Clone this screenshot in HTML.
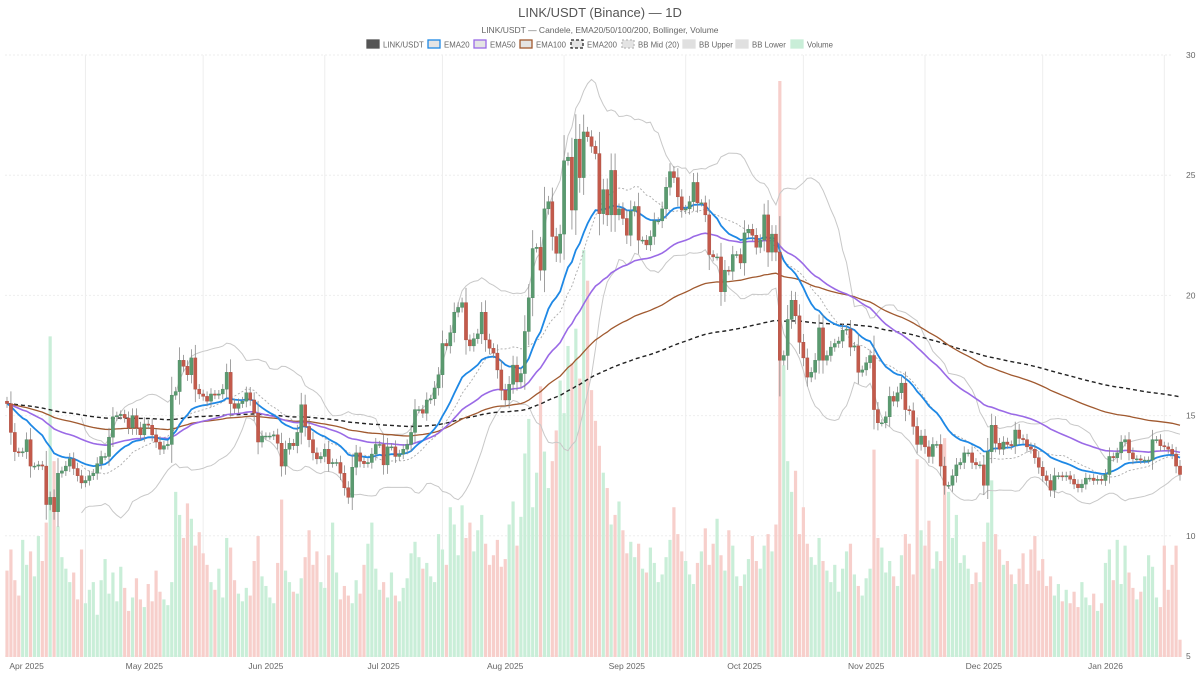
<!DOCTYPE html>
<html><head><meta charset="utf-8">
<style>
html,body{margin:0;padding:0;background:#fff;}
body{width:1200px;height:675px;overflow:hidden;font-family:"Liberation Sans",sans-serif;}
svg text{font-family:"Liberation Sans",sans-serif;}
</style></head>
<body>
<svg id="chart" width="1200" height="675" viewBox="0 0 1200 675">
<text x="600" y="17" text-anchor="middle" font-size="13" fill="#555">LINK/USDT (Binance) — 1D</text>
<text x="600" y="33" text-anchor="middle" font-size="8.5" fill="#666">LINK/USDT — Candele, EMA20/50/100/200, Bollinger, Volume</text>
<g id="legend"></g>
<g id="grid"></g>
<g id="vol"></g>
<g id="bb"></g>
<g id="ema"></g>
<g id="candles"></g>
<g id="axes"></g>
</svg>
<script>
const closes = [
15.5,14.3,13.5,13.45,13.5,14.0,12.9,12.9,12.95,12.9,11.3,11.6,11.0,12.6,12.7,12.9,13.2,12.8,12.5,12.2,12.3,12.5,12.6,13.0,13.3,13.3,14.1,14.95,15.0,15.05,14.9,14.5,15.0,14.5,14.2,14.65,14.6,14.2,13.9,13.6,13.75,13.8,15.85,16.0,17.3,17.05,16.7,17.4,16.1,15.9,
15.8,15.6,15.9,15.85,15.9,16.1,16.8,15.5,15.3,15.5,15.6,15.95,15.65,15.1,13.9,14.15,14.15,14.15,14.2,13.85,12.9,13.6,13.85,13.75,14.3,15.45,14.55,14.0,13.45,13.2,13.3,13.6,13.0,13.05,13.05,12.6,12.0,11.6,12.85,13.45,13.1,13.0,13.05,13.4,13.8,13.8,12.95,13.7,13.7,13.3,
13.4,13.6,13.8,
14.3,15.25,15.25,15.1,15.65,15.7,16.15,16.7,18.0,17.9,18.45,19.3,19.5,19.7,18.15,17.9,18.2,18.4,19.3,18.15,17.8,17.6,16.9,16.05,15.65,16.3,17.1,16.4,16.75,18.5,19.9,21.95,22.0,21.05,23.6,23.9,22.45,21.75,22.55,25.6,25.75,23.55,26.5,24.9,26.8,26.6,26.2,25.9,23.4,
24.4,23.35,25.2,23.35,23.6,23.2,22.5,23.5,23.7,22.3,22.3,22.1,22.45,23.1,23.1,23.6,24.5,25.15,24.9,24.1,23.55,23.6,23.9,24.7,23.85,23.85,23.35,21.7,21.6,21.6,20.15,21.05,21.0,21.7,21.7,21.35,22.6,22.75,22.5,22.0,22.3,23.35,21.8,22.55,21.8,17.3,17.5,19.0,19.8,19.15,18.05,17.4,16.6,16.8,17.3,
18.65,17.3,17.5,17.85,18.0,18.1,18.55,18.6,17.85,17.9,16.8,16.9,17.2,17.5,15.25,14.7,14.7,14.95,15.8,15.6,15.95,16.35,15.25,15.2,14.55,13.8,14.15,13.7,13.3,13.8,13.8,12.9,12.1,12.1,12.5,12.95,13.05,13.45,13.45,13.05,12.95,12.95,12.1,13.5,14.6,
13.85,13.6,13.9,13.8,13.75,14.4,14.05,14.0,13.7,13.6,13.25,12.85,12.5,12.3,11.9,12.5,12.5,12.45,12.5,12.35,12.15,12.0,12.15,12.4,12.4,12.3,12.35,12.3,12.55,13.3,13.25,13.45,13.9,14.0,13.45,13.2,13.2,13.15,13.15,13.15,14.0,14.0,13.75,13.7,13.6,13.4,12.9,12.55
];
const firstOpen = 15.6;
const volumes = [
4.5,5.6,4.0,3.2,6.1,4.8,5.5,4.2,6.3,5.0, 7.0,16.7,10.2,6.8,5.2,4.6,3.9,4.4,3.0,5.6,
2.8,3.5,3.9,2.2,4.0,5.1,3.3,4.4,2.9,4.7, 3.6,2.4,3.1,4.1,3.0,2.6,3.8,2.9,4.5,3.4,
3.0,2.7,3.9,8.6,7.4,6.2,8.0,7.2,5.8,6.5, 5.4,4.8,3.9,3.5,4.6,3.1,6.2,5.7,4.0,3.3,
2.9,3.6,3.2,5.0,6.3,4.2,3.7,3.1,2.8,4.9, 8.2,4.5,3.9,3.4,3.3,4.1,5.2,6.6,4.8,5.5,
3.9,3.6,5.3,7.0,4.4,3.0,3.7,3.2,2.8,4.0, 3.3,4.8,5.9,7.0,4.6,3.5,3.9,3.1,4.4,3.2,
2.9,3.6,4.1,5.4,6.0,5.2,4.6,4.9,4.2,3.9, 6.4,5.6,4.8,7.8,6.9,5.3,7.9,6.2,7.0,5.5,
6.6,7.4,5.9,4.8,5.3,6.1,4.7,5.1,6.9,8.1, 5.8,7.3,10.6,12.4,7.8,9.6,14.1,10.7,8.8,10.2,
11.8,14.4,12.7,16.2,15.3,17.1,14.5,21.2,19.6,13.9, 12.3,11.0,9.6,8.8,6.9,7.4,8.1,6.6,5.4,6.0,
5.2,5.9,4.6,4.4,5.7,4.9,3.9,4.3,5.2,6.1, 7.8,6.4,5.5,5.0,4.3,3.8,4.9,5.5,6.7,4.8,
5.9,7.2,5.3,4.5,6.6,5.8,4.2,3.7,4.3,5.1, 6.3,5.0,4.6,5.8,6.4,5.5,6.9,30.0,15.2,10.2,
8.6,9.7,6.4,7.8,5.9,5.2,4.8,6.2,5.0,4.5, 3.9,4.8,3.4,4.6,5.5,5.9,4.3,3.7,3.2,4.1,
4.6,10.8,6.2,5.7,4.4,5.0,4.2,3.7,5.3,6.4, 5.9,4.3,10.3,6.6,5.8,7.1,4.6,5.5,5.0,11.4,
8.6,6.2,7.4,4.9,5.3,4.6,3.8,4.4,3.9,6.0, 7.0,9.2,6.4,5.6,4.8,5.0,4.3,3.8,4.6,5.4,
3.8,5.6,6.3,4.5,5.1,3.7,4.2,3.2,3.8,2.9, 3.5,2.8,3.4,2.6,3.9,3.1,2.7,3.3,2.4,2.8,
4.9,5.6,4.0,6.1,3.8,5.8,4.4,3.6,3.0,3.4, 4.2,5.3,4.7,3.1,2.6,5.8,3.5,4.8,5.8,0.9
];
const monthLabels = ["Apr 2025","May 2025","Jun 2025","Jul 2025","Aug 2025","Sep 2025","Oct 2025","Nov 2025","Dec 2025","Jan 2026"];
const monthStartIdx = [5,35,66,96,127,158,188,219,249,280];
const priceTicks = [5,10,15,20,25,30];

const NS="http://www.w3.org/2000/svg";
const N = closes.length;
const X0=7, X1=1180, PT=55, PB=656;
const xs = i => X0 + i*(X1-X0)/(N-1);
const ys = p => PB - (p-5)*(PB-PT)/25;
const vs = v => v*19.2;
function mk(tag, attrs, parent){const e=document.createElementNS(NS,tag);for(const k in attrs)e.setAttribute(k,attrs[k]);parent.appendChild(e);return e;}

const opens = closes.map((c,i)=> i===0?firstOpen:closes[i-1]);
const highs = closes.map((c,i)=> Math.max(c,opens[i]) + 0.15 + 0.3*Math.abs(c-opens[i]));
const lows = closes.map((c,i)=> Math.min(c,opens[i]) - 0.15 - 0.3*Math.abs(c-opens[i]));

const grid=document.getElementById('grid');
priceTicks.forEach(t=>{
  const l=mk('line',{x1:5,x2:1172,y1:ys(t),y2:ys(t),stroke:'#eee','stroke-width':1,'stroke-dasharray':'2,2'},grid);
  
  
});
monthStartIdx.forEach(m=>{
  const l=mk('line',{x1:xs(m+15),x2:xs(m+15),y1:PT,y2:PB,stroke:'#eee','stroke-width':1},grid);
  
  
});

const vg=document.getElementById('vol');
volumes.forEach((v,i)=>{
  const up=closes[i]>=opens[i];
  const h=vs(v);
  const r=mk('rect',{x:xs(i)-1.6,y:657-h,width:3.2,height:h,fill:up?'#c9eed8':'#f7cfcb'},vg);
  
  
});

function ema(p){const a=2/(p+1);let e=closes[0];return closes.map(c=>(e=a*c+(1-a)*e));}
const bbMid=[],bbUp=[],bbLo=[];
for(let i=19;i<N;i++){const w=closes.slice(i-19,i+1);const m=w.reduce((a,b)=>a+b,0)/20;const sd=Math.sqrt(w.reduce((a,b)=>a+(b-m)*(b-m),0)/20);bbMid.push([i,m]);bbUp.push([i,m+2*sd]);bbLo.push([i,m-2*sd]);}
function path(pts){return pts.map((p,k)=>(k?'L':'M')+xs(p[0]).toFixed(1)+' '+ys(p[1]).toFixed(1)).join(' ');}
const bb=document.getElementById('bb');
let e;
e=mk('path',{d:path(bbUp),fill:'none',stroke:'#c8c8c8','stroke-width':1},bb);


e=mk('path',{d:path(bbLo),fill:'none',stroke:'#c8c8c8','stroke-width':1},bb);


e=mk('path',{d:path(bbMid),fill:'none',stroke:'#aaa','stroke-width':0.9,'stroke-dasharray':'2,2'},bb);


const eg=document.getElementById('ema');
const emaDefs=[[200,'#222',1.4,'4,3','ema200'],[100,'#a0592f',1.3,'','ema100'],[50,'#9a6ae6',1.6,'','ema50'],[20,'#1e88e5',1.8,'','ema20']];
emaDefs.forEach(d=>{
  const vals=ema(d[0]).map((v,i)=>[i,v]);
  const a={d:path(vals),fill:'none',stroke:d[1],'stroke-width':d[2]};
  if(d[3])a['stroke-dasharray']=d[3];
  const p=mk('path',a,eg);
  
  
});

const cg=document.getElementById('candles');
closes.forEach((c,i)=>{
  const o=opens[i],up=c>=o,col=up?'#5a9a6f':'#c35a4b';
  const x=xs(i);
  const w=mk('line',{x1:x,x2:x,y1:ys(highs[i]),y2:ys(lows[i]),stroke:'#888','stroke-width':0.8},cg);
  
  
  const t=ys(Math.max(o,c)),b=ys(Math.min(o,c));
  const r=mk('rect',{x:x-1.6,y:t,width:3.2,height:Math.max(1,b-t),fill:col,stroke:up?'#4a8660':'#a84a3d','stroke-width':0.4},cg);
  
  
});

const ax=document.getElementById('axes');
priceTicks.forEach(t=>{
  const tx=mk('text',{x:1186,y:ys(t)+3,'font-size':8.5,fill:'#666'},ax);
  tx.textContent=t;
  
  
});
monthLabels.forEach((m,k)=>{
  const tx=mk('text',{x:xs(monthStartIdx[k]),y:669,'font-size':8.5,fill:'#666','text-anchor':'middle'},ax);
  tx.textContent=m;
  
  
});

const lg=document.getElementById('legend');
const legendItems=[[367,'LINK/USDT','#555','#555',''],[428,'EMA20','#e4e4e4','#1e88e5',''],[474,'EMA50','#e4e4e4','#9a6ae6',''],[520,'EMA100','#e4e4e4','#a0592f',''],[571,'EMA200','#e4e4e4','#222','3,2'],[622,'BB Mid (20)','#e4e4e4','#bbb','2,2'],[683,'BB Upper','#e0e0e0','#e0e0e0',''],[736,'BB Lower','#e0e0e0','#e0e0e0',''],[791,'Volume','#c9eed8','#c9eed8','']];
legendItems.forEach(it=>{
  const g=mk('g',{},lg);
  
  
  const a={x:it[0],y:40,width:12,height:8,fill:it[2],stroke:it[3],'stroke-width':1.3};
  if(it[4])a['stroke-dasharray']=it[4];
  mk('rect',a,g);
  const tx=mk('text',{x:it[0]+16,y:47.5,'font-size':7.8,fill:'#666'},g);
  tx.textContent=it[1];
});
</script>
</body></html>
